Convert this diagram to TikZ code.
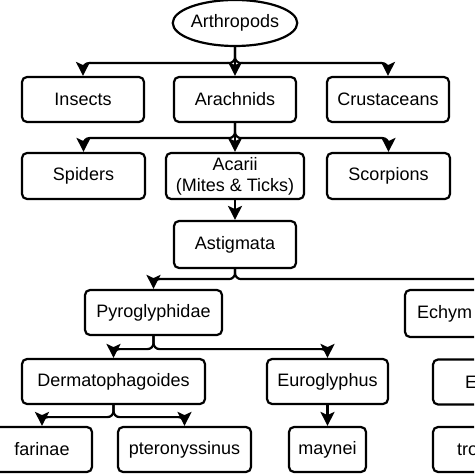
\documentclass[tikz,border=0pt]{standalone}
\usepackage{fontspec}
\setmainfont{Liberation Sans}
\usetikzlibrary{arrows.meta,shapes.geometric}

\begin{document}
\begin{tikzpicture}[x=0.5pt,y=-0.5pt,
    box/.style={draw, line width=1.1pt, rounded corners=2.5pt, minimum height=22.5pt,
                inner sep=0pt, align=center, font=\fontsize{9}{10.5}\selectfont},
    edge/.style={line width=1.1pt, rounded corners=3pt,
                 -{Stealth[length=7pt,width=7pt,inset=1.6pt]}}]
    \useasboundingbox (0,0) rectangle (474,474);
    \clip (0,0) rectangle (474,474);

    % Top
    \node[draw, ellipse, line width=1.1pt, minimum width=61pt, minimum height=23pt, inner sep=0pt,
          font=\fontsize{9}{10.5}\selectfont] (arth) at (235,23) {Arthropods};

    % Classes
    \node[box, minimum width=61pt] (ins) at (83,99.5) {Insects};
    \node[box, minimum width=61pt] (arach) at (235,99.5) {Arachnids};
    \node[box, minimum width=61pt] (crus) at (388,99.5) {Crustaceans};

    % Orders
    \node[box, minimum width=61.5pt, minimum height=23pt] (spid) at (83.5,176) {Spiders};
    \node[box, minimum width=69pt, minimum height=23pt] (acar) at (235,176) {Acarii\\(Mites \& Ticks)};
    \node[box, minimum width=61.5pt, minimum height=23pt] (scor) at (388.5,176) {Scorpions};
    \node[box, minimum width=61pt, minimum height=23.5pt] (astig) at (235,244.5) {Astigmata};

    % Families
    \node[box, minimum width=68.5pt] (pyro) at (153.5,312.5) {Pyroglyphidae};
    \node[box, minimum height=23.5pt, text width=68pt, inner xsep=6pt, align=left] (echy) at (485,313.5) {Echym};

    % Genera
    \node[box, minimum width=91.5pt] (derm) at (113.5,381.5) {Dermatophagoides};
    \node[box, minimum width=60.5pt] (euro) at (327.5,381.5) {Euroglyphus};
    \node[box, text width=29pt, inner xsep=16pt, align=left] (gene) at (494,382) {E};

    % Species
    \node[box, minimum width=50pt] (far) at (42,449.5) {farinae};
    \node[box, minimum width=66.5pt] (pter) at (184.5,449.5) {pteronyssinus};
    \node[box, minimum width=38.5pt] (mayn) at (327.5,449.5) {maynei};
    \node[box, text width=35.5pt, inner xsep=12pt, align=left] (trop) at (492.5,449.5) {tro};

    % Connectors
    \draw[edge] (arth.south) -- ++(0,16) -| (ins.north);
    \draw[edge] (arth.south) -- (arach.north);
    \draw[edge] (arth.south) -- ++(0,16) -| (crus.north);

    \draw[edge] (arach.south) -- ++(0,15) -| (spid.north);
    \draw[edge] (arach.south) -- (acar.north);
    \draw[edge] (arach.south) -- ++(0,15) -| (scor.north);

    \draw[edge] (acar.south) -- (astig.north);

    \draw[edge] (astig.south) -- ++(0,10) -| (pyro.north);
    \draw[edge] (astig.south) -- ++(0,10) -| (echy.north);

    \draw[edge] (pyro.south) -- ++(0,13) -| (derm.north);
    \draw[edge] (pyro.south) -- ++(0,13) -| (euro.north);
    \draw[edge] (echy.south) -- ++(0,12) -| (gene.north);

    \draw[edge] (derm.south) -- ++(0,12) -| (far.north);
    \draw[edge] (derm.south) -- ++(0,12) -| (pter.north);
    \draw[edge] (euro.south) -- (mayn.north);
    \draw[edge] (gene.south) -- (trop.north);
\end{tikzpicture}
\end{document}
